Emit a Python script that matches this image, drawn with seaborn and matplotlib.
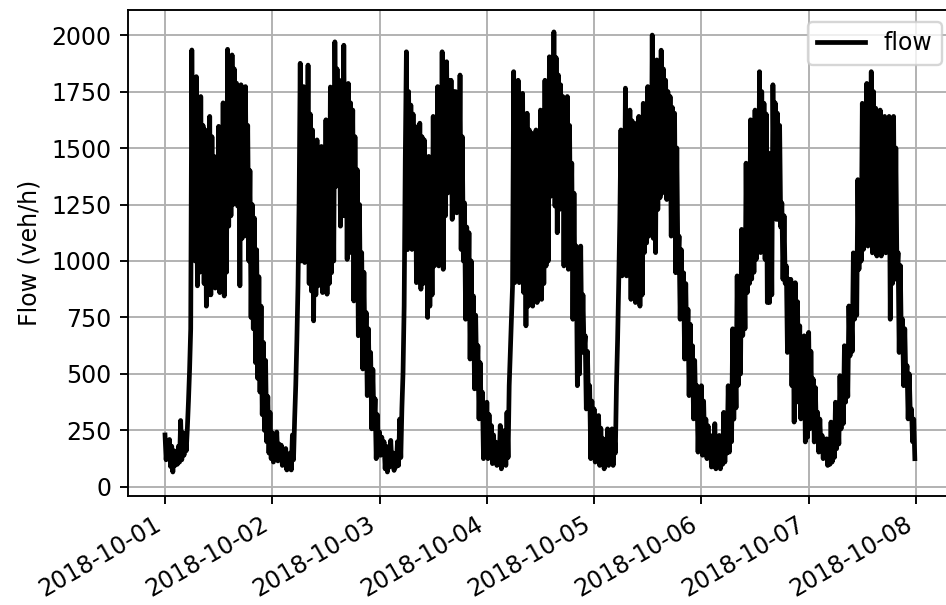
import numpy as np
import pandas as pd
import matplotlib
matplotlib.use("Agg")
import matplotlib.pyplot as plt
import matplotlib.dates as mdates
import seaborn as sns

# Traffic flow (veh/h), one reading every 15 minutes, one list per day
oct01 = [230, 120, 200, 140, 210, 90, 180, 66, 160, 95, 150, 100, 180, 110, 294, 120,
         240, 140, 220, 160, 260, 380, 520, 700, 1934, 1040, 1750, 1000, 1816, 890, 1700, 950,
         1728, 960, 1600, 900, 1580, 800, 1500, 850, 1640, 850, 1550, 900, 1463, 880, 1420, 900,
         1596, 860, 1550, 900, 1700, 845, 1650, 950, 1937, 1154, 1750, 1200, 1912, 1250, 1850, 1300,
         1787, 1243, 1750, 890, 1780, 1100, 1700, 1150, 1772, 1110, 1600, 1000, 1400, 750, 1250, 700,
         1190, 550, 1050, 480, 930, 420, 800, 320, 640, 250, 560, 200, 400, 150, 330, 125]
oct02 = [240, 110, 200, 130, 243, 115, 190, 130, 185, 95, 160, 100, 170, 75, 140, 80,
         150, 75, 230, 120, 300, 450, 650, 890, 1264, 1875, 1000, 1680, 1772, 993, 1700, 1050,
         1867, 900, 1650, 867, 1580, 735, 1500, 850, 1536, 890, 1480, 900, 1507, 860, 1450, 870,
         1625, 853, 1550, 900, 1770, 948, 1700, 1000, 1970, 1330, 1850, 1350, 1800, 1154, 1750, 1200,
         1955, 1200, 1750, 1007, 1786, 1036, 1700, 1100, 1668, 823, 1550, 900, 1404, 669, 1250, 700,
         1037, 522, 950, 550, 772, 404, 700, 420, 595, 257, 520, 270, 390, 125, 320, 140]
oct03 = [243, 140, 220, 150, 200, 80, 180, 66, 170, 88, 206, 100, 150, 73, 140, 90,
         200, 95, 300, 130, 350, 507, 800, 1448, 1926, 1050, 1750, 1100, 1690, 1051, 1650, 1100,
         1595, 904, 1550, 950, 1610, 875, 1550, 900, 1536, 904, 1450, 750, 1463, 800, 1420, 850,
         1640, 978, 1580, 1000, 1772, 978, 1700, 1050, 1926, 963, 1800, 1200, 1882, 1301, 1800, 1350,
         1800, 1184, 1750, 1250, 1750, 1213, 1700, 1250, 1823, 1051, 1550, 1000, 1257, 742, 1150, 760,
         1125, 566, 1000, 580, 845, 434, 760, 450, 625, 301, 550, 320, 419, 125, 340, 140]
oct04 = [375, 125, 320, 150, 272, 103, 230, 120, 198, 95, 170, 100, 272, 80, 200, 100,
         250, 95, 330, 130, 448, 600, 750, 890, 1838, 904, 1700, 950, 1800, 904, 1700, 950,
         1742, 860, 1650, 713, 1654, 800, 1580, 850, 1566, 800, 1500, 850, 1580, 816, 1520, 850,
         1668, 830, 1600, 900, 1800, 978, 1720, 1000, 1904, 1286, 1850, 1300, 2014, 1243, 1900, 1125,
         1823, 1228, 1780, 1300, 1728, 978, 1680, 1050, 1728, 963, 1600, 1000, 1433, 742, 1300, 780,
         1066, 448, 900, 500, 1066, 595, 850, 600, 669, 345, 600, 360, 448, 125, 380, 150]
oct05 = [345, 110, 300, 130, 316, 95, 260, 110, 213, 80, 190, 100, 257, 95, 220, 110,
         257, 95, 230, 150, 448, 650, 900, 1184, 1580, 934, 1550, 1000, 1765, 934, 1650, 960,
         1668, 830, 1620, 870, 1610, 816, 1560, 850, 1640, 800, 1580, 850, 1698, 1037, 1650, 1080,
         1772, 1110, 1720, 1150, 2000, 1100, 1850, 1037, 1890, 1228, 1820, 1280, 1933, 1301, 1850, 1350,
         1800, 1272, 1750, 1300, 1728, 1110, 1680, 1150, 1654, 948, 1500, 980, 1110, 742, 1050, 760,
         948, 566, 900, 580, 786, 404, 720, 420, 625, 301, 560, 320, 448, 154, 380, 170]
oct06 = [448, 140, 380, 160, 300, 125, 270, 130, 228, 88, 200, 100, 280, 80, 200, 100,
         228, 80, 200, 100, 330, 110, 300, 150, 448, 154, 400, 200, 700, 300, 650, 350,
         934, 450, 880, 500, 1140, 670, 1080, 700, 1433, 860, 1350, 900, 1625, 920, 1550, 950,
         1668, 1007, 1600, 1050, 1838, 1037, 1750, 1080, 1698, 1007, 1650, 816, 1478, 816, 1420, 850,
         1780, 1286, 1700, 1184, 1654, 1184, 1600, 1150, 1257, 919, 1200, 900, 978, 595, 920, 620,
         919, 448, 850, 287, 904, 375, 820, 400, 713, 301, 650, 320, 669, 199, 580, 220]
oct07 = [684, 257, 600, 280, 478, 199, 440, 210, 330, 154, 300, 160, 228, 125, 210, 130,
         213, 95, 190, 100, 287, 110, 260, 130, 375, 169, 340, 190, 492, 257, 460, 280,
         625, 375, 600, 400, 801, 580, 780, 600, 1036, 742, 1000, 760, 1360, 963, 1300, 1000,
         1698, 1051, 1620, 1080, 1786, 1066, 1720, 1100, 1838, 1036, 1750, 1080, 1676, 1022, 1620, 1050,
         1668, 1022, 1600, 1050, 1640, 1036, 1600, 1060, 1640, 742, 1550, 900, 1640, 919, 1500, 950,
         1037, 595, 980, 620, 742, 448, 700, 460, 537, 301, 500, 310, 345, 200, 300, 125]

flow = oct01 + oct02 + oct03 + oct04 + oct05 + oct06 + oct07
timestamps = pd.date_range("2018-10-01 00:00", periods=len(flow), freq="15min")
df = pd.DataFrame({"time": timestamps, "flow": flow})

DPI = 170
fig = plt.figure(figsize=(946 / DPI, 605 / DPI), dpi=DPI)
ax = fig.add_axes([128 / 946, 1 - 495.5 / 605, 825.5 / 946, 485.3 / 605])

sns.lineplot(data=df, x="time", y="flow", ax=ax, color="black",
             linewidth=2.0, label="flow")

ax.set_xlim(pd.Timestamp("2018-10-01") - pd.Timedelta(days=0.345),
            pd.Timestamp("2018-10-08") + pd.Timedelta(days=0.35))
ax.set_ylim(-38, 2110)
ax.xaxis.set_major_locator(mdates.DayLocator())
ax.xaxis.set_major_formatter(mdates.DateFormatter("%Y-%m-%d"))
plt.setp(ax.get_xticklabels(), rotation=30, ha="right")
ax.set_xlabel("")
ax.set_ylabel("Flow (veh/h)")
ax.grid(True)
ax.legend(loc="upper right")

fig.savefig("out.png", dpi=DPI)
